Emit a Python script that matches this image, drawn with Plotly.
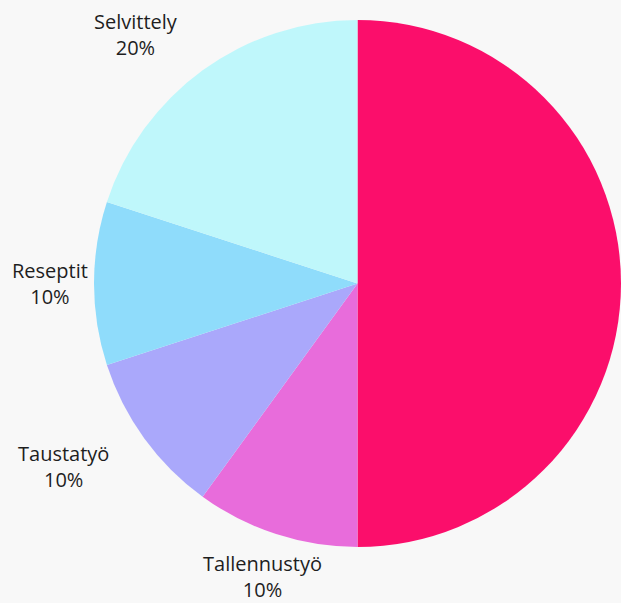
import math
import plotly.graph_objects as go

labels = ["", "Tallennustyö", "Taustatyö", "Reseptit", "Selvittely"]
values = [50, 10, 10, 10, 20]
colors = ["#FB0E6B", "#E86CDB", "#AAA8FB", "#8FDCFB", "#BFF7FB"]
label_dist = [0, 1.17, 1.315, 1.167, 1.264]   # label distance as fraction of radius
label_shift = [0, 0, 4.2, 0, -5.7]            # small angular nudge (degrees)

W, H = 621, 603
BG = "#F8F8F8"
dom_x = [94 / W, 1.0]
dom_y = [(H - 549) / H, (H - 18) / H]

fig = go.Figure(go.Pie(
    labels=labels, values=values, sort=False, direction="clockwise", rotation=0,
    marker=dict(colors=colors, line=dict(width=0)),
    textinfo="none", hoverinfo="none", showlegend=False,
    domain=dict(x=dom_x, y=dom_y),
))

cx = (dom_x[0] + dom_x[1]) / 2 * W
cy = (1 - (dom_y[0] + dom_y[1]) / 2) * H
r = min((dom_x[1] - dom_x[0]) * W, (dom_y[1] - dom_y[0]) * H) / 2

total = sum(values)
cum = 0
for lab, v, k, sh in zip(labels, values, label_dist, label_shift):
    mid = (cum + v / 2) / total * 360 + sh
    cum += v
    if not lab:
        continue
    a = math.radians(mid)
    px = cx + k * r * math.sin(a)
    py = cy - k * r * math.cos(a)
    fig.add_annotation(
        x=px / W, y=1 - py / H, xref="paper", yref="paper",
        text=f"{lab}<br>{round(v / total * 100)}%", showarrow=False,
        font=dict(family="Open Sans", size=20, color="#1E1E1E"),
        xanchor="center", yanchor="middle", align="center",
    )

fig.update_layout(
    width=W, height=H, margin=dict(l=0, r=0, t=0, b=0),
    paper_bgcolor=BG, plot_bgcolor=BG,
)
fig.write_html(
    "out.html",
    config={"displayModeBar": False},
    post_script=f"document.body.style.margin='0';document.body.style.background='{BG}';document.body.style.overflow='hidden';",
)
